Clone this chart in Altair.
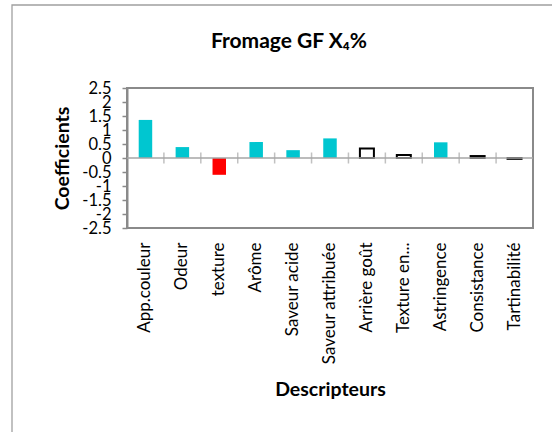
import altair as alt
import pandas as pd

categories = ["App.couleur", "Odeur", "texture", "Arôme", "Saveur acide",
              "Saveur attribuée", "Arrière goût", "Texture en...", "Astringence",
              "Consistance", "Tartinabilité"]
coefficients = [1.36, 0.39, -0.60, 0.57, 0.28, 0.70, 0.34, 0.11, 0.56, 0.07, -0.03]
groups = ["pos", "pos", "neg", "pos", "pos", "pos", "ns", "ns", "pos", "ns", "ns"]
y_ticks = [-2.5, -2, -1.5, -1, -0.5, 0, 0.5, 1, 1.5, 2, 2.5]

df = pd.DataFrame({"Descripteur": categories, "Coefficient": coefficients, "Groupe": groups})
tick_df = pd.DataFrame({"Descripteur": categories[1:], "Coefficient": [0] * (len(categories) - 1)})
zero_df = pd.DataFrame({"Coefficient": [0]})

FONT = "Lato"
GRAY = "#8a8a8a"

x_axis = alt.Axis(
    title="Descripteurs", labelAngle=-90, ticks=False, tickSize=0, domain=False,
    labelPadding=14, labelFont=FONT, labelFontSize=17, labelColor="black",
    titleFont=FONT, titleFontSize=19.5, titleFontWeight="bold", titleColor="black",
    titleY=161, titleBaseline="middle",
)
x_scale = alt.Scale(paddingInner=0, paddingOuter=0)
y_scale = alt.Scale(domain=[-2.5, 2.5], nice=False, zero=False)
y_axis = alt.Axis(
    title="Coefficients", values=y_ticks, labelExpr="'' + datum.value", grid=False,
    labelOverlap=False, labelFlush=False, labelBound=False,
    tickSize=5, tickColor=GRAY, tickWidth=1.5, domainColor=GRAY, domainWidth=2,
    labelPadding=11, labelFont=FONT, labelFontSize=16.5, labelColor="black",
    titleFont=FONT, titleFontSize=19.5, titleFontWeight="bold", titleColor="black",
    titleX=-65, titleBaseline="middle",
)

X = alt.X("Descripteur:N", sort=categories, scale=x_scale, axis=x_axis)
Y = alt.Y("Coefficient:Q", scale=y_scale, axis=y_axis)

base = alt.Chart(df)

frame = alt.Chart(pd.DataFrame({"f": [0]})).mark_rect(
    fillOpacity=0, stroke="#a0a0a0", strokeWidth=1.3
).encode(x=alt.value(-115), x2=alt.value(700), y=alt.value(-83), y2=alt.value(700))

bars_filled = base.transform_filter("datum.Groupe != 'ns'").mark_bar(size=13.5).encode(
    x=X, y=Y,
    color=alt.Color("Groupe:N", scale=alt.Scale(domain=["pos", "neg"], range=["#00C6D0", "#FF0000"]), legend=None),
)
bars_hollow = base.transform_filter("datum.Groupe == 'ns'").mark_bar(
    size=14, fill="white", stroke="black", strokeWidth=2
).encode(x=X, y=Y)

zero = alt.Chart(zero_df).mark_rule(color="#a6a6a6", strokeWidth=1.5).encode(y=Y)
ticks = alt.Chart(tick_df).mark_tick(color="#a6a6a6", orient="vertical", size=11, thickness=1.5).encode(
    x=alt.X("Descripteur:N", sort=categories, scale=x_scale, axis=x_axis, bandPosition=0),
    y=Y,
)

chart = alt.layer(frame, bars_filled, bars_hollow, zero, ticks).properties(
    width=406, height=140,
    title=alt.TitleParams("Fromage GF X₄%", font=FONT, fontSize=21, fontWeight="bold",
                          color="black", anchor="middle", dx=-41, dy=65, offset=0,
                          baseline="alphabetic"),
    autosize=alt.AutoSizeParams(type="none"),
    padding={"left": 127, "top": 88, "right": 19, "bottom": 204},
).configure_view(stroke=GRAY, strokeWidth=2).configure_axisY(
    labelOverlap=False, labelFlush=False
)

chart.save("out.html", embed_options={"renderer": "svg", "actions": False})
